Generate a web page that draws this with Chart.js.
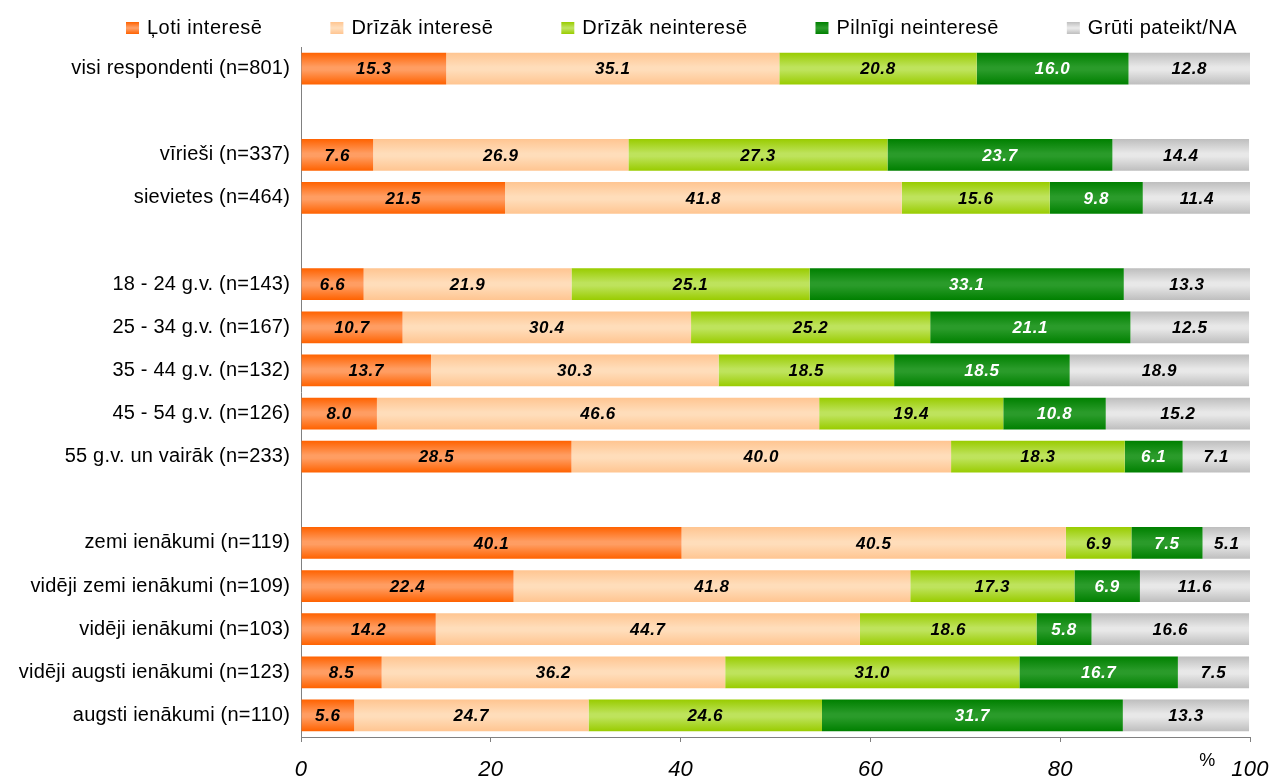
<!DOCTYPE html>
<html>
<head>
<meta charset="utf-8">
<script src="https://cdn.jsdelivr.net/npm/chart.js@4.4.1/dist/chart.umd.min.js"></script>
<style>
html,body{margin:0;padding:0;background:#fff;}
#wrap{width:1270px;height:776px;position:relative;}
</style>
</head>
<body>
<div id="wrap"><canvas id="c" width="1270" height="776"></canvas></div>
<script>
const categories = [
  'visi respondenti (n=801)', '',
  'vīrieši (n=337)', 'sievietes (n=464)', '',
  '18 - 24 g.v. (n=143)', '25 - 34 g.v. (n=167)', '35 - 44 g.v. (n=132)', '45 - 54 g.v. (n=126)', '55 g.v. un vairāk (n=233)', '',
  'zemi ienākumi (n=119)', 'vidēji zemi ienākumi (n=109)', 'vidēji ienākumi (n=103)', 'vidēji augsti ienākumi (n=123)', 'augsti ienākumi (n=110)'
];
const seriesNames = ['Ļoti interesē', 'Drīzāk interesē', 'Drīzāk neinteresē', 'Pilnīgi neinteresē', 'Grūti pateikt/NA'];
const lotiInterese     = [15.3, null, 7.6, 21.5, null, 6.6, 10.7, 13.7, 8.0, 28.5, null, 40.1, 22.4, 14.2, 8.5, 5.6];
const drizakInterese   = [35.1, null, 26.9, 41.8, null, 21.9, 30.4, 30.3, 46.6, 40.0, null, 40.5, 41.8, 44.7, 36.2, 24.7];
const drizakNeinterese = [20.8, null, 27.3, 15.6, null, 25.1, 25.2, 18.5, 19.4, 18.3, null, 6.9, 17.3, 18.6, 31.0, 24.6];
const pilnigiNeinterese= [16.0, null, 23.7, 9.8, null, 33.1, 21.1, 18.5, 10.8, 6.1, null, 7.5, 6.9, 5.8, 16.7, 31.7];
const grutiPateikt     = [12.8, null, 14.4, 11.4, null, 13.3, 12.5, 18.9, 15.2, 7.1, null, 5.1, 11.6, 16.6, 7.5, 13.3];
const xTicks = [0, 20, 40, 60, 80, 100];
const unitLabel = '%';

const palettes = [
  {edge:'#FF6200', mid:'#FF9D62', label:'#000'},
  {edge:'#FFC591', mid:'#FFDDBA', label:'#000'},
  {edge:'#99CC00', mid:'#BEE35C', label:'#000'},
  {edge:'#008000', mid:'#2A9B2A', label:'#fff'},
  {edge:'#BEBEBE', mid:'#E8E8E8', label:'#000'}
];
const BAR_PCT = 0.735;

function makeGrad(ctx2d, top, bottom, p) {
  const g = ctx2d.createLinearGradient(0, top, 0, bottom);
  g.addColorStop(0, p.edge);
  g.addColorStop(0.45, p.mid);
  g.addColorStop(0.55, p.mid);
  g.addColorStop(1, p.edge);
  return g;
}

function barFill(p) {
  return function(context) {
    const chart = context.chart;
    const ys = chart.scales && chart.scales.y;
    if (!ys || !chart.chartArea || context.dataIndex === undefined) return p.mid;
    const c = ys.getPixelForValue(context.dataIndex);
    const band = Math.abs(ys.getPixelForValue(1) - ys.getPixelForValue(0));
    const half = band * BAR_PCT / 2;
    return makeGrad(chart.ctx, c - half, c + half, p);
  };
}

const allSeries = [lotiInterese, drizakInterese, drizakNeinterese, pilnigiNeinterese, grutiPateikt];
const datasets = allSeries.map((d, i) => ({
  label: seriesNames[i],
  data: d,
  backgroundColor: barFill(palettes[i]),
  borderWidth: 0,
  barPercentage: BAR_PCT,
  categoryPercentage: 1.0
}));

const FONT = "'Liberation Sans', Arial, sans-serif";

const spacingPlugin = {
  id: 'spacing',
  beforeDraw(chart) { chart.ctx.letterSpacing = '0.2px'; }
};

const labelPlugin = {
  id: 'valueLabels',
  afterDatasetsDraw(chart) {
    const ctx = chart.ctx;
    ctx.save();
    ctx.letterSpacing = '0.6px';
    ctx.font = "italic bold 17px " + FONT;
    ctx.textAlign = 'center';
    ctx.textBaseline = 'middle';
    chart.data.datasets.forEach((ds, di) => {
      const meta = chart.getDatasetMeta(di);
      meta.data.forEach((el, i) => {
        const v = ds.data[i];
        if (v === null || v === undefined) return;
        ctx.fillStyle = palettes[di].label;
        ctx.fillText(v.toFixed(1), (el.x + el.base) / 2, el.y + 1);
      });
    });
    ctx.restore();
  }
};

const legendPlugin = {
  id: 'customLegend',
  afterDraw(chart) {
    const ctx = chart.ctx;
    ctx.save();
    ctx.letterSpacing = '0.5px';
    ctx.font = "20px " + FONT;
    ctx.textBaseline = 'middle';
    ctx.textAlign = 'left';
    const box = 13, boxGap = 8;
    const widths = seriesNames.map(n => box + boxGap + ctx.measureText(n).width);
    const startX = 126, endX = 1237;
    const total = widths.reduce((a, b) => a + b, 0);
    const gap = (endX - startX - total) / (seriesNames.length - 1);
    let x = startX;
    const cy = 28;
    seriesNames.forEach((n, i) => {
      ctx.fillStyle = makeGrad(ctx, cy - 6, cy + 6, palettes[i]);
      ctx.fillRect(x, cy - 6, box, 12);
      ctx.fillStyle = '#000';
      ctx.fillText(n, x + box + boxGap, cy);
      x += widths[i] + gap;
    });
    // axis unit label
    const xs = chart.scales.x;
    ctx.letterSpacing = '0px';
    ctx.font = "18px " + FONT;
    ctx.textAlign = 'center';
    ctx.fillText(unitLabel, xs.getPixelForValue(95.5), 761);
    ctx.restore();
  }
};

new Chart(document.getElementById('c'), {
  type: 'bar',
  data: { labels: categories, datasets },
  options: {
    indexAxis: 'y',
    responsive: false,
    animation: false,
    layout: { padding: { top: 47, right: 20, left: 0, bottom: 0 } },
    plugins: { legend: { display: false }, tooltip: { enabled: false } },
    scales: {
      x: {
        stacked: true,
        min: 0, max: 100,
        afterBuildTicks(s) { s.ticks = xTicks.map(v => ({ value: v })); },
        afterFit(s) { s.height = 39; s.paddingLeft = 0; s.paddingRight = 0; },
        grid: { drawOnChartArea: false, drawTicks: true, tickLength: 5, color: '#808080' },
        border: { color: '#808080', width: 1 },
        ticks: { font: { family: FONT, size: 22, style: 'italic' }, color: '#000', padding: 15, maxRotation: 0 }
      },
      y: {
        stacked: true,
        afterFit(s) { s.width = 301; },
        grid: { display: false, drawTicks: false },
        border: { color: '#808080', width: 1 },
        ticks: { font: { family: FONT, size: 20 }, color: '#000', padding: 11, autoSkip: false }
      }
    }
  },
  plugins: [spacingPlugin, labelPlugin, legendPlugin]
});
</script>
</body>
</html>
